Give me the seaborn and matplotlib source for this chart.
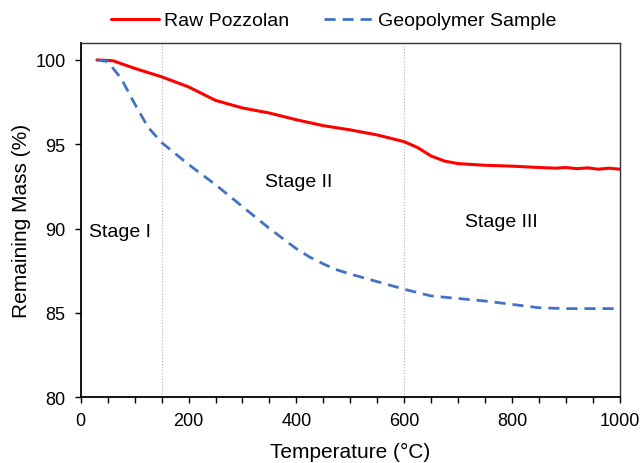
import matplotlib.pyplot as plt
import pandas as pd
import seaborn as sns

# temperatures (°C) and remaining mass (%)
raw_temp = [30, 60, 100, 150, 200, 250, 300, 350, 400, 450, 500, 550, 600,
            625, 650, 675, 700, 750, 800, 850, 880, 900, 920, 940, 960, 980, 1000]
raw_mass = [100.0, 99.95, 99.5, 99.0, 98.4, 97.6, 97.15, 96.85, 96.45, 96.1, 95.85,
            95.55, 95.15, 94.8, 94.3, 94.0, 93.85, 93.75, 93.7, 93.62, 93.58, 93.62,
            93.55, 93.6, 93.52, 93.58, 93.52]

geo_temp = [30, 50, 75, 100, 125, 150, 200, 250, 300, 350, 400, 425, 450, 475, 500,
            550, 600, 650, 700, 750, 800, 850, 900, 1000]
geo_mass = [100.0, 99.9, 98.9, 97.4, 96.0, 95.1, 93.8, 92.6, 91.3, 90.0, 88.8,
            88.3, 87.9, 87.55, 87.3, 86.85, 86.4, 86.0, 85.85, 85.7, 85.5, 85.3,
            85.25, 85.25]

stage_names = ["Stage I", "Stage II", "Stage III"]
stage_x = [72, 404, 781]
stage_y = [89.8, 92.8, 90.4]
stage_bounds = [150, 600]

sns.set_style("ticks")
plt.rcParams["font.family"] = ["Liberation Sans", "DejaVu Sans"]
plt.rcParams["text.color"] = "black"
plt.rcParams["axes.labelcolor"] = "black"
plt.rcParams["xtick.labelcolor"] = "black"
plt.rcParams["ytick.labelcolor"] = "black"

raw = pd.DataFrame({"Temperature": raw_temp, "Mass": raw_mass})
geo = pd.DataFrame({"Temperature": geo_temp, "Mass": geo_mass})

fig = plt.figure(figsize=(6.41, 4.64), dpi=100)
ax = fig.add_axes([0.126, 0.142, 0.841, 0.763])

for b in stage_bounds:
    ax.axvline(b, color="#b0b0b0", lw=0.8, ls=":", zorder=0)

sns.lineplot(data=raw, x="Temperature", y="Mass", ax=ax, color="#ff0000",
             lw=2.2, label="Raw Pozzolan")
sns.lineplot(data=geo, x="Temperature", y="Mass", ax=ax, color="#4472c4",
             lw=2.0, label="Geopolymer Sample", dashes=False)
ax.lines[-1].set_dashes([4, 2.5])

for name, x, y in zip(stage_names, stage_x, stage_y):
    ax.text(x, y, name, ha="center", va="center", fontsize=14)

ax.set_xlim(0, 1000)
ax.set_ylim(80, 101)
ax.set_xticks(range(0, 1001, 200))
ax.set_xticks(range(0, 1001, 50), minor=True)
ax.set_yticks(range(80, 101, 5))
ax.set_xlabel("Temperature (°C)", fontsize=15, labelpad=9)
ax.set_ylabel("Remaining Mass (%)", fontsize=15, labelpad=3)
ax.tick_params(labelsize=13, direction="out", length=4, width=1, color="black")
ax.tick_params(axis="x", pad=7)
ax.tick_params(axis="y", pad=7)
ax.tick_params(axis="x", which="minor", direction="out", length=4, width=1,
               color="black", bottom=True)
for s in ax.spines.values():
    s.set_color("#333333")
    s.set_linewidth(1.0)
ax.spines["left"].set_color("black")
ax.spines["bottom"].set_color("black")
ax.spines["left"].set_linewidth(1.3)
ax.spines["bottom"].set_linewidth(1.3)

leg = ax.legend(loc="lower center", bbox_to_anchor=(0.469, 1.0), ncol=2, frameon=False,
                fontsize=14, handlelength=2.5, handletextpad=0.25, columnspacing=1.8,
                borderaxespad=0.3)
for t in leg.get_texts():
    t.set_color("black")

fig.savefig("out.png", dpi=100)
